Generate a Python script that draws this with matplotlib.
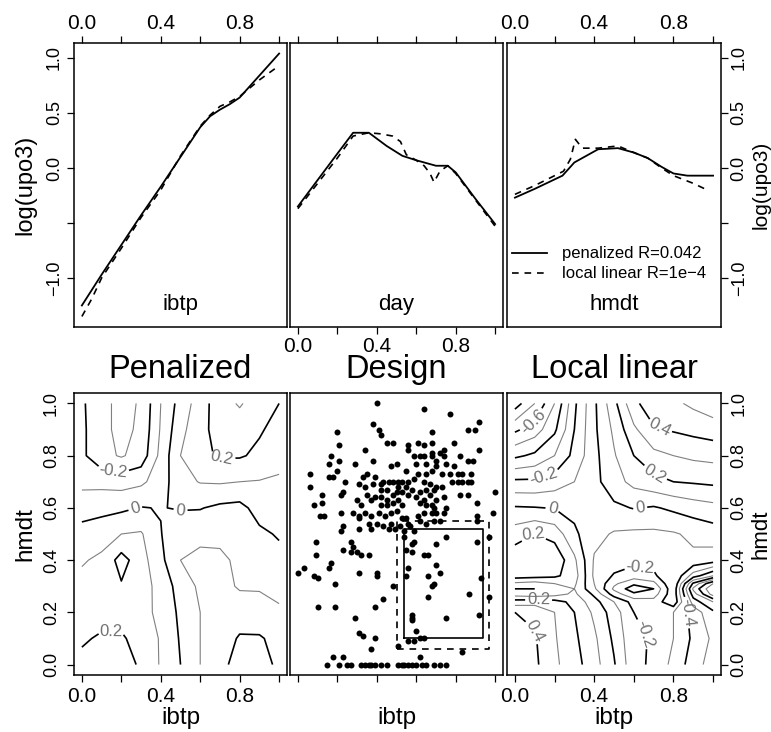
import numpy as np
import matplotlib
matplotlib.use('Agg')
import matplotlib.pyplot as plt

plt.rcParams['font.family'] = ['Liberation Sans', 'DejaVu Sans']
plt.rcParams['contour.negative_linestyle'] = 'solid'

# ---- top row: fitted main effects, log(upo3) ----
ibtp_x_pen = [0, 0.1, 0.2, 0.3, 0.4, 0.5, 0.6, 0.65, 0.7, 0.75, 0.8, 0.9, 1.0]
ibtp_pen = [-1.25, -0.97, -0.70, -0.43, -0.17, 0.10, 0.37, 0.47, 0.53, 0.58, 0.64, 0.84, 1.04]
ibtp_x_ll = [0, 0.05, 0.1, 0.2, 0.3, 0.4, 0.5, 0.6, 0.65, 0.7, 0.75, 0.8, 0.9, 1.0]
ibtp_ll = [-1.35, -1.19, -1.0, -0.73, -0.45, -0.2, 0.11, 0.38, 0.48, 0.56, 0.60, 0.65, 0.80, 0.93]

day_x_pen = [0, 0.1, 0.2, 0.28, 0.36, 0.45, 0.53, 0.6, 0.7, 0.76, 0.8, 0.9, 1.0]
day_pen = [-0.35, -0.11, 0.13, 0.32, 0.32, 0.2, 0.11, 0.07, 0.02, 0.02, -0.04, -0.28, -0.51]
day_x_ll = [0, 0.1, 0.2, 0.28, 0.36, 0.42, 0.48, 0.52, 0.55, 0.6, 0.64, 0.67, 0.69, 0.72, 0.76, 0.8, 0.9, 1.0]
day_ll = [-0.37, -0.14, 0.09, 0.29, 0.32, 0.31, 0.29, 0.24, 0.12, 0.07, 0.02, -0.05, -0.13, -0.03, 0.02, -0.05, -0.29, -0.53]

hmdt_x_pen = [0, 0.1, 0.24, 0.3, 0.42, 0.52, 0.6, 0.67, 0.74, 0.8, 0.87, 1.0]
hmdt_pen = [-0.27, -0.19, -0.07, 0.05, 0.17, 0.18, 0.14, 0.09, 0.01, -0.05, -0.07, -0.07]
hmdt_x_ll = [0, 0.1, 0.245, 0.28, 0.305, 0.34, 0.42, 0.52, 0.6, 0.67, 0.74, 0.8, 0.9, 0.97]
hmdt_ll = [-0.24, -0.16, -0.03, 0.08, 0.26, 0.18, 0.18, 0.2, 0.14, 0.09, 0.0, -0.07, -0.14, -0.2]

# ---- bottom row: interaction surfaces on (ibtp, hmdt) ----
grid_x = [0.0, 0.1, 0.2, 0.3, 0.4, 0.5, 0.6, 0.7, 0.8, 0.9, 1.0]
pen_y = [0.0, 0.1, 0.2, 0.3, 0.4, 0.5, 0.6, 0.7, 0.8, 0.9, 1.0]
pen_z = [
    [0.22, 0.24, 0.23, 0.19, 0.09, 0.00, -0.10, -0.17, -0.24, -0.24, -0.18],
    [0.19, 0.21, 0.21, 0.17, 0.09, -0.01, -0.10, -0.15, -0.21, -0.21, -0.17],
    [0.15, 0.17, 0.17, 0.14, 0.07, -0.02, -0.10, -0.14, -0.15, -0.14, -0.11],
    [0.13, 0.15, 0.19, 0.15, 0.06, -0.04, -0.12, -0.13, -0.09, -0.09, -0.08],
    [0.09, 0.12, 0.24, 0.14, 0.025, -0.10, -0.13, -0.12, -0.08, -0.06, -0.03],
    [0.03, 0.057, 0.10, 0.11, 0.005, -0.09, -0.07, -0.075, -0.06, -0.02, 0.01],
    [-0.035, -0.03, -0.02, 0.005, -0.005, 0.01, 0.005, -0.02, -0.03, 0.04, 0.05],
    [-0.13, -0.13, -0.14, -0.12, -0.05, 0.07, 0.105, 0.11, 0.10, 0.095, 0.08],
    [-0.18, -0.27, -0.31, -0.26, -0.07, 0.10, 0.18, 0.21, 0.21, 0.18, 0.15],
    [-0.18, -0.27, -0.33, -0.28, -0.09, 0.07, 0.17, 0.24, 0.25, 0.21, 0.17],
    [-0.185, -0.27, -0.33, -0.29, -0.10, 0.04, 0.15, 0.26, 0.31, 0.25, 0.20],
]
ll_y = [0.0, 0.1, 0.2, 0.24, 0.27, 0.29, 0.31, 0.34, 0.4, 0.5, 0.6, 0.7, 0.8, 0.9, 1.0]
ll_z = [
    [0.48, 0.42, 0.32, 0.24, 0.14, 0.01, -0.17, -0.22, -0.33, -0.45, -0.55],
    [0.46, 0.41, 0.31, 0.22, 0.12, -0.02, -0.18, -0.21, -0.30, -0.42, -0.52],
    [0.40, 0.38, 0.30, 0.20, 0.08, -0.05, -0.20, -0.22, -0.30, -0.44, -0.58],
    [0.25, 0.26, 0.24, 0.17, 0.04, -0.10, -0.24, -0.26, -0.12, -0.55, -0.70],
    [0.05, 0.03, 0.06, 0.12, -0.02, -0.25, -0.38, -0.35, -0.13, -0.65, -0.95],
    [0.00, 0.00, 0.05, 0.10, -0.08, -0.32, -0.46, -0.40, -0.12, -0.72, -1.00],
    [0.08, 0.06, 0.10, 0.12, -0.10, -0.28, -0.38, -0.33, -0.10, -0.62, -0.90],
    [0.25, 0.24, 0.22, 0.15, -0.12, -0.21, -0.25, -0.22, -0.10, -0.35, -0.50],
    [0.27, 0.28, 0.28, 0.12, -0.11, -0.15, -0.17, -0.16, -0.14, -0.12, -0.15],
    [0.15, 0.20, 0.16, 0.02, -0.07, -0.11, -0.12, -0.12, -0.11, -0.08, -0.05],
    [0.01, 0.005, -0.005, -0.03, -0.06, -0.02, 0.005, -0.01, 0.02, 0.05, 0.07],
    [-0.18, -0.18, -0.15, -0.10, -0.03, 0.06, 0.13, 0.17, 0.20, 0.21, 0.22],
    [-0.42, -0.38, -0.30, -0.17, -0.03, 0.09, 0.20, 0.27, 0.30, 0.32, 0.33],
    [-0.62, -0.55, -0.42, -0.20, -0.02, 0.12, 0.28, 0.39, 0.41, 0.43, 0.45],
    [-0.85, -0.70, -0.50, -0.22, -0.02, 0.17, 0.38, 0.45, 0.48, 0.52, 0.56],
]

# ---- design points (ibtp, hmdt) ----
design_ibtp = [
    0.40, 0.64, 0.77, 0.92, 0.86, 0.90, 0.20, 0.38, 0.41, 0.42,
    0.68, 0.45, 0.48, 0.61, 0.68, 0.79, 0.21, 0.56, 0.64, 0.34,
    0.92, 0.56, 0.74, 0.72, 0.68, 0.17, 0.21, 0.29, 0.38, 0.47,
    0.50, 0.59, 0.62, 0.64, 0.68, 0.70, 0.74, 0.82, 0.86, 0.89,
    0.16, 0.20, 0.60, 0.65, 0.70, 0.75, 0.79, 0.55, 0.61, 0.65,
    0.68, 0.73, 0.77, 0.81, 0.83, 0.88, 0.06, 0.16, 0.18, 0.24,
    0.33, 0.35, 0.39, 0.42, 0.43, 0.46, 0.48, 0.51, 0.53, 0.56,
    0.59, 0.64, 0.67, 0.70, 0.73, 0.78, 0.81, 0.83, 0.86, 0.88,
    0.06, 0.31, 0.34, 0.38, 0.42, 0.45, 0.51, 0.55, 0.58, 0.62,
    0.65, 0.69, 1.00, 0.12, 0.23, 0.35, 0.39, 0.42, 0.45, 0.48,
    0.50, 0.53, 0.56, 0.60, 0.64, 0.67, 0.70, 0.74, 0.82, 0.86,
    0.08, 0.12, 0.22, 0.30, 0.32, 0.37, 0.42, 0.45, 0.48, 0.51,
    0.53, 0.62, 0.65, 0.68, 0.69, 0.75, 0.91, 0.11, 0.13, 0.22,
    0.28, 0.31, 0.34, 0.37, 0.41, 0.44, 0.47, 0.50, 0.53, 0.55,
    0.61, 0.64, 0.68, 0.70, 0.74, 0.91, 0.99, 0.31, 0.36, 0.40,
    0.43, 0.47, 0.52, 0.56, 0.23, 0.22, 0.31, 0.37, 0.46, 0.49,
    0.54, 0.57, 0.59, 0.62, 0.65, 0.69, 0.72, 0.91, 0.09, 0.27,
    0.54, 0.59, 0.58, 0.70, 0.75, 0.91, 0.97, 0.23, 0.28, 0.30,
    0.27, 0.32, 0.36, 0.09, 0.55, 0.58, 0.64, 0.66, 0.00, 0.03,
    0.08, 0.10, 0.16, 0.17, 0.19, 0.31, 0.40, 0.40, 0.48, 0.55,
    0.56, 0.66, 0.68, 0.69, 0.70, 0.72, 0.66, 0.43, 0.39, 0.10,
    0.19, 0.87, 0.93, 0.92, 0.97, 0.75, 0.58, 0.58, 0.58, 0.29,
    0.31, 0.33, 0.39, 0.37, 0.60, 0.64, 0.62, 0.56, 0.59, 0.51,
    0.83, 0.62, 0.18, 0.23,
    0.15, 0.21, 0.25, 0.27, 0.32, 0.34, 0.36, 0.37, 0.39, 0.42, 0.45,
    0.51, 0.53, 0.54, 0.56, 0.58, 0.60, 0.63, 0.65, 0.69, 0.72, 0.75,
]
design_hmdt = [
    1.00, 0.98, 0.96, 0.93, 0.90, 0.90, 0.89, 0.92, 0.90, 0.88,
    0.89, 0.85, 0.85, 0.85, 0.85, 0.85, 0.84, 0.84, 0.84, 0.82,
    0.82, 0.82, 0.82, 0.81, 0.81, 0.80, 0.78, 0.77, 0.78, 0.76,
    0.77, 0.80, 0.80, 0.80, 0.80, 0.78, 0.80, 0.80, 0.78, 0.78,
    0.77, 0.74, 0.77, 0.77, 0.76, 0.77, 0.76, 0.74, 0.73, 0.73,
    0.74, 0.73, 0.73, 0.73, 0.73, 0.73, 0.73, 0.72, 0.72, 0.70,
    0.72, 0.73, 0.72, 0.69, 0.70, 0.70, 0.70, 0.70, 0.70, 0.70,
    0.71, 0.70, 0.69, 0.68, 0.68, 0.70, 0.70, 0.70, 0.70, 0.70,
    0.68, 0.69, 0.68, 0.69, 0.67, 0.67, 0.68, 0.68, 0.67, 0.66,
    0.67, 0.67, 0.66, 0.65, 0.66, 0.65, 0.64, 0.64, 0.63, 0.65,
    0.66, 0.66, 0.65, 0.64, 0.63, 0.65, 0.63, 0.64, 0.65, 0.65,
    0.61, 0.62, 0.65, 0.63, 0.61, 0.63, 0.61, 0.61, 0.62, 0.63,
    0.61, 0.62, 0.61, 0.61, 0.60, 0.60, 0.62, 0.57, 0.57, 0.58,
    0.58, 0.57, 0.58, 0.57, 0.58, 0.57, 0.58, 0.59, 0.56, 0.56,
    0.57, 0.58, 0.58, 0.58, 0.58, 0.57, 0.58, 0.56, 0.54, 0.54,
    0.53, 0.54, 0.53, 0.54, 0.53, 0.51, 0.52, 0.52, 0.52, 0.52,
    0.51, 0.53, 0.51, 0.55, 0.54, 0.55, 0.55, 0.55, 0.47, 0.47,
    0.49, 0.47, 0.46, 0.46, 0.49, 0.47, 0.49, 0.44, 0.45, 0.43,
    0.43, 0.42, 0.42, 0.42, 0.44, 0.43, 0.42, 0.42, 0.35, 0.37,
    0.34, 0.33, 0.37, 0.39, 0.31, 0.35, 0.35, 0.34, 0.30, 0.34,
    0.37, 0.34, 0.30, 0.31, 0.38, 0.35, 0.26, 0.25, 0.22, 0.22,
    0.22, 0.27, 0.33, 0.19, 0.26, 0.18, 0.19, 0.17, 0.18, 0.18,
    0.12, 0.11, 0.10, 0.06, 0.13, 0.10, 0.10, 0.09, 0.09, 0.07,
    0.05, 0.03, 0.03, 0.03,
    0.0, 0.0, 0.0, 0.0, 0.0, 0.0, 0.0, 0.0, 0.0, 0.0, 0.0,
    0.0, 0.0, 0.0, 0.0, 0.0, 0.0, 0.0, 0.0, 0.0, 0.0, 0.0,
]
# (x0, x1, y0, y1) of the two sub-regions
region_inner = [0.54, 0.94, 0.10, 0.52]
region_outer = [0.50, 0.97, 0.06, 0.55]

x_ticks = [0, 0.2, 0.4, 0.6, 0.8, 1.0]
x_ticklabels = ['0.0', '', '0.4', '', '0.8', '']
top_yticks = [-1.0, -0.5, 0.0, 0.5, 1.0]
top_yticklabels = ['\u22121.0', '', '0.0', '0.5', '1.0']
bot_yticks = [0, 0.2, 0.4, 0.6, 0.8, 1.0]
bot_yticklabels = ['0.0', '0.2', '0.4', '0.6', '0.8', '1.0']

# where the contour labels sit (near which point of the level line)
pen_label_at = [(0.17, 0.78), (0.27, 0.60), (0.50, 0.58), (0.71, 0.80), (0.15, 0.10)]
ll_label_at = [(0.11, 0.91), (0.15, 0.71), (0.19, 0.60), (0.63, 0.61),
               (0.71, 0.74), (0.73, 0.91), (0.10, 0.49), (0.63, 0.37),
               (0.12, 0.27), (0.11, 0.13), (0.66, 0.12), (0.88, 0.20)]

W, H = 771, 732
fig = plt.figure(figsize=(W / 100, H / 100), dpi=100)


def rect(l, t, r, b):
    return [l / W, 1 - b / H, (r - l) / W, (b - t) / H]


def frame(ax):
    for s in ax.spines.values():
        s.set_linewidth(1.1)
    ax.tick_params(direction='out', length=5, width=0.9, labelsize=15)
    ax.set_xlim(-0.04, 1.04)


def yrot(ax, labels, side, pad, size=13):
    ax.set_yticklabels(labels)
    ax.tick_params(axis='y', pad=pad)
    for t in ax.get_yticklabels():
        t.set_rotation(90)
        t.set_va('center')
        t.set_ha('right' if side == 'left' else 'left')
        t.set_fontsize(size)


top_lims = (-1.446, 1.136)
ax1 = fig.add_axes(rect(74, 43, 287, 327))
ax2 = fig.add_axes(rect(290, 43, 503, 327))
ax3 = fig.add_axes(rect(507, 43, 721, 327))

dash = (4, 3.5)
for ax, xp, yp, xl, yl, name in [
        (ax1, ibtp_x_pen, ibtp_pen, ibtp_x_ll, ibtp_ll, 'ibtp'),
        (ax2, day_x_pen, day_pen, day_x_ll, day_ll, 'day'),
        (ax3, hmdt_x_pen, hmdt_pen, hmdt_x_ll, hmdt_ll, 'hmdt')]:
    frame(ax)
    lp, = ax.plot(xp, yp, color='black', lw=1.3)
    ld, = ax.plot(xl, yl, color='black', lw=1.2, dashes=dash)
    ax.set_ylim(*top_lims)
    ax.set_xticks(x_ticks)
    ax.set_xticklabels(x_ticklabels)
    ax.text(0.5, 0.06, name, transform=ax.transAxes, ha='center',
            va='baseline', fontsize=16)

ax1.tick_params(axis='x', top=True, bottom=False, labeltop=True,
                labelbottom=False, pad=2)
ax1.set_yticks(top_yticks)
yrot(ax1, top_yticklabels, 'left', 3)
ax1.text(-0.23, 0.5, 'log(upo3)', transform=ax1.transAxes, rotation=90,
         ha='center', va='center', fontsize=17)

ax2.tick_params(axis='x', top=True, bottom=True, labeltop=False,
                labelbottom=True, pad=2)
ax2.set_yticks([])

ax3.tick_params(axis='x', top=True, bottom=False, labeltop=True,
                labelbottom=False, pad=2)
ax3.yaxis.tick_right()
ax3.set_yticks(top_yticks)
yrot(ax3, top_yticklabels, 'right', 2)
ax3.text(1.186, 0.5, 'log(upo3)', transform=ax3.transAxes, rotation=90,
         ha='center', va='center', fontsize=15)
ax3.legend(handles=[lp, ld],
           labels=['penalized R=0.042', 'local linear R=1e\u22124'],
           loc='center left', bbox_to_anchor=(0.0, 0.222), frameon=False,
           fontsize=12, handlelength=2.1, handletextpad=0.9,
           labelspacing=0.3, borderpad=0, borderaxespad=0.3)

# ---- bottom row ----
bx1 = fig.add_axes(rect(74, 393, 287, 675))
bx2 = fig.add_axes(rect(290, 393, 503, 675))
bx3 = fig.add_axes(rect(507, 393, 721, 675))


def clab(v):
    return '0' if abs(v) < 1e-9 else '%.1f' % v


def contours(ax, xs, ys, zs, lo, hi, label_at):
    levels = np.round(np.arange(lo, hi + 0.01, 0.1), 1)
    even = [v for v in levels if int(round(v * 10)) % 2 == 0]
    odd = [v for v in levels if int(round(v * 10)) % 2 != 0]
    ax.contour(xs, ys, zs, levels=odd, colors='#808080', linewidths=0.8,
               linestyles='solid')
    cs = ax.contour(xs, ys, zs, levels=even, colors='black', linewidths=1.2,
                    linestyles='solid')
    ax.clabel(cs, fmt=clab, fontsize=12, colors='#707070', inline=True,
              inline_spacing=3, manual=label_at)


contours(bx1, grid_x, pen_y, np.array(pen_z), -0.3, 0.3, pen_label_at)
contours(bx3, grid_x, ll_y, np.array(ll_z), -1.0, 0.6, ll_label_at)
bx2.plot(design_ibtp, design_hmdt, 'o', color='black', ms=4.3, mew=0)
for reg, ls in [(region_inner, '-'), (region_outer, '--')]:
    x0, x1, y0, y1 = reg
    ln, = bx2.plot([x0, x1, x1, x0, x0], [y0, y0, y1, y1, y0],
                   color='black', lw=1.2)
    if ls == '--':
        ln.set_dashes(dash)

for ax, title in [(bx1, 'Penalized'), (bx2, 'Design'), (bx3, 'Local linear')]:
    frame(ax)
    ax.set_ylim(-0.04, 1.04)
    ax.set_xticks(x_ticks)
    ax.set_xticklabels(x_ticklabels)
    ax.tick_params(axis='x', pad=3.5)
    ax.text(0.5, 1.053, title, transform=ax.transAxes, ha='center',
            va='baseline', fontsize=23.5)
    ax.text(0.5, -0.152, 'ibtp', transform=ax.transAxes, ha='center',
            va='center', fontsize=17.5)

bx1.set_yticks(bot_yticks)
yrot(bx1, bot_yticklabels, 'left', 5)
bx1.text(-0.23, 0.5, 'hmdt', transform=bx1.transAxes, rotation=90,
         ha='center', va='center', fontsize=17.5)

bx2.set_xticklabels([''] * len(x_ticks))
bx2.set_yticks([])

bx3.yaxis.tick_right()
bx3.set_yticks(bot_yticks)
yrot(bx3, bot_yticklabels, 'right', 2)
bx3.text(1.186, 0.5, 'hmdt', transform=bx3.transAxes, rotation=90,
         ha='center', va='center', fontsize=16)

fig.savefig('out.png', dpi=100)
